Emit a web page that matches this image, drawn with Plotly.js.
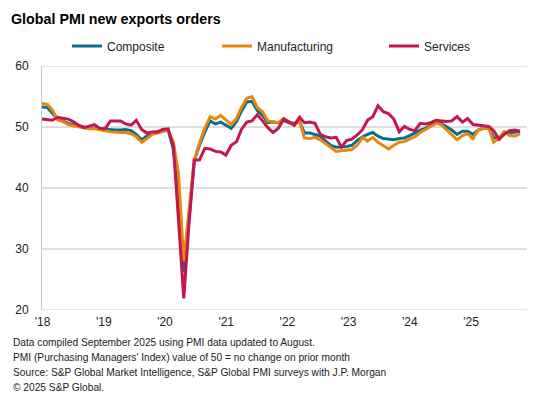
<!DOCTYPE html>
<html><head><meta charset="utf-8">
<script src="https://cdn.plot.ly/plotly-3.0.1.min.js"></script>
<style>html,body{margin:0;padding:0;background:#fff}#chart{width:535px;height:397px}</style>
</head><body><div id="chart"></div>
<script>
// Monthly readings, Jan 2018 - Aug 2025
const composite = [
 53.3,53.2,52.3,51.3,51.0,50.6,50.4,50.2,49.9,49.8,49.8,49.7,
 49.7,49.5,49.5,49.5,49.6,49.4,48.8,47.9,48.5,49.1,49.2,49.3,
 49.6,46.3,39.0,26.3,35.0,44.5,47.0,49.2,51.0,50.5,50.8,50.3,
 49.8,50.9,52.6,54.1,54.2,52.7,51.9,50.7,50.8,50.7,51.1,50.7,
 50.6,50.9,49.0,49.0,48.7,48.5,47.7,47.0,46.7,46.7,46.8,47.0,
 47.8,48.4,48.8,49.1,48.5,48.1,48.0,47.9,48.1,48.2,48.6,49.1,
 49.5,49.8,50.3,50.8,50.6,50.1,49.5,48.8,49.3,49.3,48.8,49.5,
 49.8,49.8,48.3,48.0,49.2,49.0,49.2,49.3
];
const manufacturing = [
 53.9,53.7,52.8,51.2,50.9,50.4,50.2,50.0,49.8,49.7,49.7,49.6,
 49.4,49.2,49.1,49.1,49.1,48.9,48.4,47.5,48.1,48.8,49.0,49.2,
 49.5,47.5,42.5,28.0,36.5,44.6,47.4,49.8,51.7,51.3,51.9,51.2,
 50.4,51.4,53.2,54.7,55.0,53.2,52.5,51.0,50.9,50.7,51.4,50.9,
 50.3,51.0,48.2,48.1,48.3,47.9,47.3,46.6,46.0,46.1,46.2,46.3,
 47.0,48.3,47.7,48.3,47.5,46.9,46.4,47.0,47.5,47.6,48.0,48.4,
 49.1,49.6,50.0,50.6,50.4,49.5,48.8,47.9,48.6,48.9,48.1,49.5,
 49.8,49.8,47.5,48.2,49.2,48.6,48.5,48.9
];
const services = [
 51.3,51.2,51.1,51.6,51.4,51.3,50.9,50.3,49.9,50.2,50.4,49.8,
 49.7,51.0,51.0,51.0,50.5,50.3,51.1,49.6,49.0,49.2,49.2,49.6,
 49.7,46.8,35.0,21.9,34.0,44.6,44.6,46.5,46.4,46.0,45.9,45.4,
 47.0,47.6,49.6,50.8,51.0,52.0,51.0,49.9,49.1,49.8,51.3,50.8,
 50.3,51.6,50.7,50.8,50.6,48.8,48.4,48.2,48.3,46.7,47.8,48.0,
 48.7,49.6,51.1,51.7,53.5,52.5,52.2,51.3,49.2,50.1,49.6,49.4,
 50.6,50.5,50.7,51.1,51.0,50.9,51.0,51.7,50.8,51.4,50.4,50.3,
 50.2,50.1,49.4,48.0,48.8,49.4,49.5,49.3
];
const seriesNames = ['Composite','Manufacturing','Services'];
const seriesColors = ['#0b6e8e','#e8870e','#c2174f'];
const tickLabels = ["'18","'19","'20","'21","'22","'23","'24","'25"];
const yTicks = [20,30,40,50,60];
const notes = [
 'Data compiled September 2025 using PMI data updated to August.',
 "PMI (Purchasing Managers' Index) value of 50 = no change on prior month",
 'Source: S&P Global Market Intelligence, S&P Global PMI surveys with J.P. Morgan',
 '\u00a9 2025 S&P Global.'
];

// month dates
const months = [];
for (let y = 2018; y <= 2025; y++) {
  for (let m = 1; m <= 12; m++) {
    if (months.length >= composite.length) break;
    months.push(y + '-' + String(m).padStart(2,'0') + '-01');
  }
}

const W = 535, H = 397;
const M = {l:42, r:8, t:66, b:87};
const plotH = H - M.t - M.b, plotW = W - M.l - M.r;
const pyPaper = py => (H - M.b - py) / plotH;
const pxPaper = px => (px - M.l) / plotW;

// tick label positions (label spacing as in the reference)
const t0 = Date.UTC(2018,0,1);
const monthMs = 30.436875 * 86400000;
const tickvals = tickLabels.map((_, k) => new Date(t0 + (0.1 + k * 11.65) * monthMs).toISOString());

const font = 'Liberation Sans, Arial, sans-serif';
const data = [composite, manufacturing, services].map((vals, k) => ({
  type: 'scatter', mode: 'lines', x: months, y: vals, name: seriesNames[k],
  line: {color: seriesColors[k], width: 3},
  legend: k === 0 ? 'legend' : 'legend' + (k + 1),
  hoverinfo: 'skip'
}));

const legBase = {orientation: 'h', xref: 'container', yref: 'container', y: 1 - 46/H, yanchor: 'middle',
  xanchor: 'left', font: {family: font, size: 12, color: '#222'}, bgcolor: 'rgba(0,0,0,0)', itemwidth: 30, tracegroupgap: 0};

const layout = {
  width: W, height: H, margin: M,
  paper_bgcolor: '#fff', plot_bgcolor: '#fff',
  font: {family: font, size: 12, color: '#222'},
  title: {text: '<b>Global PMI new exports orders</b>', xref: 'container', yref: 'container',
    x: 11/W, xanchor: 'left', y: 1 - 19/H, yanchor: 'middle', font: {family: font, size: 14.3, color: '#000'}},
  showlegend: true,
  legend: Object.assign({}, legBase, {x: 67/W}),
  legend2: Object.assign({}, legBase, {x: 217/W}),
  legend3: Object.assign({}, legBase, {x: 384/W}),
  xaxis: {type: 'date', range: ['2018-01-01', '2025-09-10'], tickmode: 'array', tickvals: tickvals, ticktext: tickLabels,
    showgrid: false, zeroline: false, showline: false, ticks: '', ticklabelstandoff: 3,
    tickfont: {family: font, size: 12, color: '#222'}},
  yaxis: {range: [20, 60], tickmode: 'array', tickvals: yTicks, showgrid: true, gridcolor: '#dedede', gridwidth: 1.5,
    zeroline: false, showline: true, linecolor: '#c8c8c8', linewidth: 1, ticks: '', ticklabelstandoff: 10,
    tickfont: {family: font, size: 12, color: '#222'}},
  shapes: [
    {type: 'line', xref: 'paper', x0: 0, x1: 1, yref: 'y', y0: 50, y1: 50, layer: 'below', line: {color: '#a6a6a6', width: 1.5}},
    {type: 'line', xref: 'paper', x0: 0, x1: 1, yref: 'y', y0: 20, y1: 20, layer: 'below', line: {color: '#dedede', width: 1.5}},
    {type: 'line', xref: 'paper', x0: 0, x1: 1, yref: 'y', y0: 60, y1: 60, layer: 'below', line: {color: '#dedede', width: 1.5}}
  ],
  annotations: notes.map((t, i) => ({
    text: t, xref: 'paper', yref: 'paper', x: pxPaper(11), y: pyPaper(342.5 + 15 * i),
    xanchor: 'left', yanchor: 'middle', showarrow: false, align: 'left',
    font: {family: font, size: 10.2, color: '#222'}
  }))
};

Plotly.newPlot('chart', data, layout, {displayModeBar: false, staticPlot: true});
</script>
</body></html>
